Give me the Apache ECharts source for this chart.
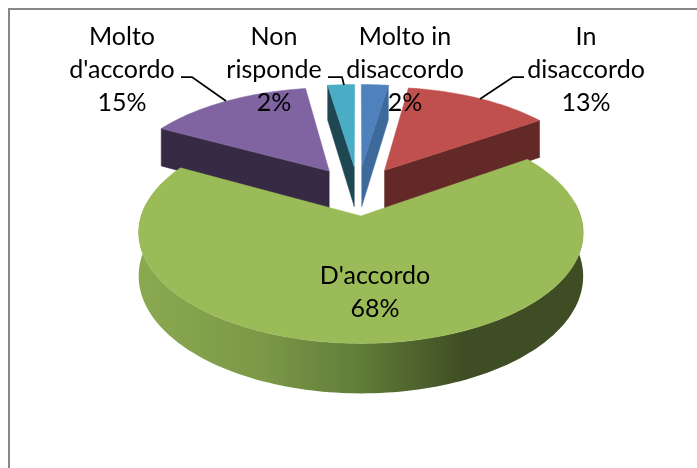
<!DOCTYPE html>
<html><head><meta charset="utf-8">
<style>html,body{margin:0;padding:0;background:#fff}#c{width:697px;height:468px}</style>
<script src="https://cdn.jsdelivr.net/npm/echarts@6/dist/echarts.min.js"></script>
</head><body><div id="c"></div>
<script>
var categories = ['Molto in disaccordo', 'In disaccordo', "D'accordo", 'Molto d\'accordo', 'Non risponde'];
var labelLines = [['Molto in', 'disaccordo'], ['In', 'disaccordo'], ["D'accordo"], ['Molto', "d'accordo"], ['Non', 'risponde']];
var values = [2.4, 13, 67.5, 14.7, 2.4];
var topColors = ['#4F81BD', '#C0504D', '#9BBB59', '#8064A2', '#4BACC6'];
var wallColors = ['#3E6A9B', '#632927', '#5F7A38', '#372A44', '#1F4752'];
var labelCenters = [[405, 36], [586, 36], [375, 275], [122, 36], [274, 36]];
var leaders = [null, [[524,77],[513,77],[480,99]], null, [[181,77],[192,77],[226,101]], [[328,77],[342,77],[344,85]]];
var drawOrder = [1, 3, 0, 4, 2];

// camera of the 3D pie
var OX = 358, OY = 190.6, RX = 212, RY = 100.8, PERSP = 0.145, EXPLODE = 0.243, DEPTH = 41;
var total = values.reduce(function (a, b) { return a + b; }, 0);
function pct2ang(p) { return p / total * 2 * Math.PI; }
var starts = []; (function () { var s = 0; values.forEach(function (v) { starts.push(s); s += v; }); })();

function project(u, v, z) {
  var w = 1 - PERSP * v;
  return [OX + RX * u / w, OY + RY * v / w + z * DEPTH / w];
}
function slicePoint(mid, ang, r, z) {
  var u = EXPLODE * Math.sin(mid) + r * Math.sin(ang);
  var v = -EXPLODE * Math.cos(mid) - r * Math.cos(ang);
  return project(u, v, z);
}
function arc(mid, a0, a1, z) {
  var n = Math.max(6, Math.ceil(Math.abs(a1 - a0) * 40)), out = [];
  for (var i = 0; i <= n; i++) out.push(slicePoint(mid, a0 + (a1 - a0) * i / n, 1, z));
  return out;
}
function poly(points, fill) {
  return { type: 'polygon', shape: { points: points }, style: { fill: fill, stroke: fill, lineWidth: 0.5 }, silent: true };
}
function renderSlice(params, api) {
  var idx = api.value(0);
  var a0 = pct2ang(starts[idx]), a1 = pct2ang(starts[idx] + api.value(1));
  var mid = (a0 + a1) / 2, kids = [];
  var apexTop = slicePoint(mid, 0, 0, 0), apexBot = slicePoint(mid, 0, 0, 1);
  var top = [apexTop].concat(arc(mid, a0, a1, 0));
  if (idx === 2) {
    // front rim, from the point where the rim turns to face the viewer
    var s = Math.max(a0, Math.PI / 2 - 0.12), e = Math.min(a1, 3 * Math.PI / 2 + 0.12);
    var rim = arc(mid, s, e, 0).concat(arc(mid, s, e, 1).reverse());
    kids.push({ type: 'polygon', shape: { points: rim }, silent: true, style: {
      fill: new echarts.graphic.LinearGradient(0, 0, 1, 0, [
        { offset: 0, color: '#8AA94F' }, { offset: 0.28, color: '#7C9848' },
        { offset: 0.5, color: '#617C39' }, { offset: 0.73, color: '#3F4D24' }, { offset: 1, color: '#3F4D24' }
      ]) } });
  } else {
    // visible cut wall: left-hand slices show their start cut, right-hand ones their end cut
    var cut = (mid < Math.PI) ? a1 : a0;
    var oTop = slicePoint(mid, cut, 1, 0), oBot = slicePoint(mid, cut, 1, 1);
    kids.push(poly([apexTop, oTop, oBot, apexBot], wallColors[idx]));
  }
  kids.push(poly(top, topColors[idx]));
  return { type: 'group', children: kids };
}
function renderLabel(params, api) {
  var idx = api.value(0), kids = [];
  var text = labelLines[idx].concat([Math.round(api.value(1) / total * 100) + '%']).join('\n');
  kids.push({ type: 'text', x: labelCenters[idx][0], y: labelCenters[idx][1] - 16, silent: true, style: {
    text: text, fill: '#000', font: '25px Lato', lineHeight: 33, align: 'center', verticalAlign: 'top' } });
  if (leaders[idx]) kids.push({ type: 'polyline', shape: { points: leaders[idx] }, silent: true,
    style: { stroke: '#000', lineWidth: 1.75, fill: null } });
  return { type: 'group', children: kids };
}
var rows = values.map(function (v, i) { return [i, v, categories[i]]; });
var chart = echarts.init(document.getElementById('c'), null, { renderer: 'canvas' });
chart.setOption({
  animation: false, backgroundColor: '#fff',
  graphic: [
    { type: 'line', shape: { x1: 8, y1: 9, x2: 697, y2: 9 }, style: { stroke: '#868686', lineWidth: 2 } },
    { type: 'line', shape: { x1: 9, y1: 8, x2: 9, y2: 468 }, style: { stroke: '#868686', lineWidth: 2 } }
  ],
  series: [
    { type: 'custom', coordinateSystem: 'none', renderItem: renderSlice, z: 2,
      data: drawOrder.map(function (i) { return rows[i]; }), encode: { itemName: 2 } },
    { type: 'custom', coordinateSystem: 'none', renderItem: renderLabel, z: 3,
      data: rows, encode: { itemName: 2 } }
  ]
});
</script></body></html>
